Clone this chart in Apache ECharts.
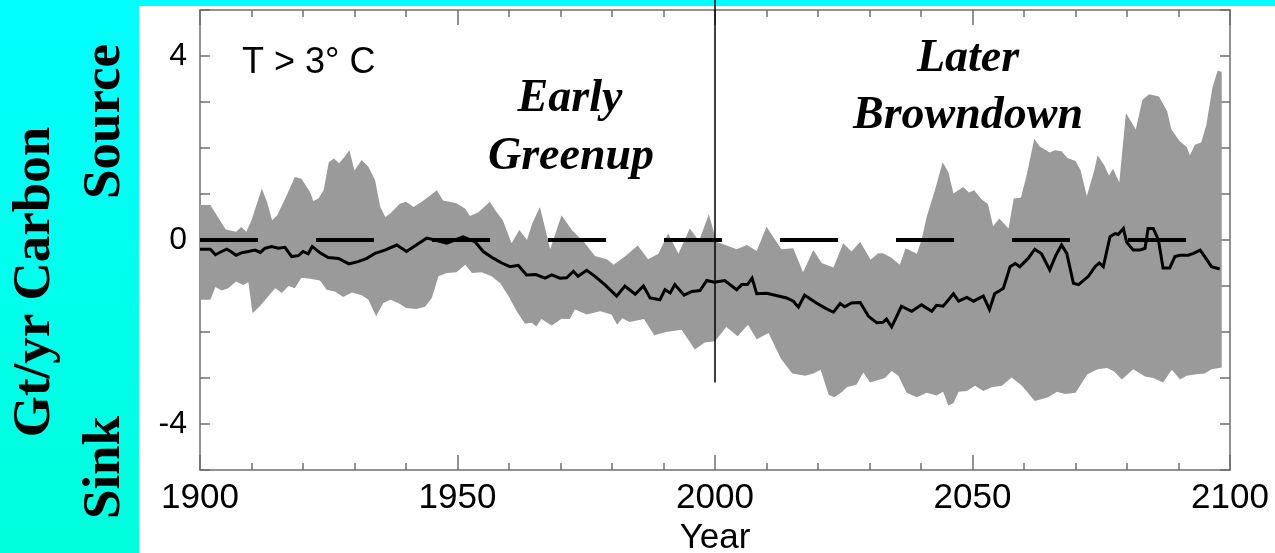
<!DOCTYPE html>
<html>
<head>
<meta charset="utf-8">
<script src="https://cdn.jsdelivr.net/npm/echarts@6/dist/echarts.min.js"></script>
<style>
html,body{margin:0;padding:0;background:#fff;overflow:hidden;}
#chart{width:1275px;height:553px;}
</style>
</head>
<body>
<div id="chart"></div>
<script>
// ---- data (year, Gt/yr carbon) ----
const upperBand = [[1900,0.76],[1902,0.76],[1905,0.23],[1907,0.18],[1908,0.28],[1909,0.18],[1910,0.43],[1912,1.12],[1913,0.83],[1914,0.43],[1915,0.54],[1917,1.01],[1918.4,1.37],[1919.7,1.33],[1921.4,1.04],[1922,0.85],[1923,0.9],[1924,1.08],[1925,1.69],[1926,1.77],[1927,1.67],[1928,1.8],[1929,1.95],[1930,1.51],[1931.4,1.74],[1932.7,1.59],[1934,1.3],[1935,0.72],[1936,0.5],[1937,0.58],[1938.8,0.79],[1940,0.83],[1941.5,0.72],[1943.4,0.86],[1946,1.08],[1947.2,0.86],[1949.8,0.8],[1951.5,0.68],[1952.4,0.52],[1954,0.6],[1955.5,0.75],[1956.3,0.83],[1957.3,0.65],[1958.8,0.43],[1960.5,-0.07],[1962,0.22],[1963.5,0.0],[1964.5,0.36],[1966,0.72],[1968,-0.2],[1970.2,0.54],[1972.2,0.22],[1974.6,-0.05],[1976.7,-0.35],[1979,-0.42],[1980.3,-0.54],[1982.5,-0.36],[1985,-0.12],[1987,-0.42],[1989,-0.3],[1990.9,0.14],[1992.9,-0.3],[1995.1,0.25],[1996.9,-0.02],[1998.8,0.56],[2000.3,-0.04],[2002,-0.11],[2004.2,-0.2],[2006.2,-0.11],[2008.1,-0.24],[2010,0.29],[2012.9,-0.2],[2015.2,-0.18],[2017.1,-0.7],[2019.1,-0.22],[2020.7,-0.5],[2023,-0.6],[2024.9,-0.07],[2026.5,-0.25],[2028.2,-0.04],[2030.2,-0.43],[2031.7,-0.29],[2032.6,-0.29],[2034.2,-0.38],[2035.9,-0.54],[2037,-0.18],[2039.2,-0.3],[2040.1,0.0],[2041.1,0.5],[2042.7,1.08],[2044.2,1.69],[2045.3,1.48],[2046.3,1.01],[2048.2,1.15],[2049.3,1.03],[2050.3,1.08],[2051.8,0.88],[2053,0.78],[2054,0.3],[2055.2,0.47],[2057,0.25],[2058,0.9],[2059.4,0.92],[2060.5,1.4],[2062,2.2],[2063,2.04],[2065,1.9],[2066,1.95],[2067.3,1.93],[2068.4,1.78],[2070,1.72],[2071,1.51],[2072.2,0.95],[2073.6,1.5],[2074.3,1.84],[2075.6,1.62],[2076.5,1.4],[2077.3,1.55],[2078.5,1.25],[2079.8,2.76],[2081.7,2.4],[2083,3.05],[2084.3,3.17],[2086.2,3.12],[2087.8,2.8],[2088.6,2.41],[2090.2,2.15],[2091.6,2.02],[2092.2,1.84],[2093.2,2.07],[2094.4,2.12],[2095.4,2.5],[2096.6,3.32],[2097.6,3.68],[2098.4,3.66]];

const lowerBand = [[1900,-1.3],[1902,-1.3],[1903,-1.02],[1904.2,-1.1],[1905.5,-1.05],[1907,-0.9],[1908.4,-0.98],[1909.4,-0.92],[1910.2,-1.59],[1911.7,-1.43],[1913.3,-1.22],[1914.6,-1.05],[1915.9,-1.15],[1917.2,-1.0],[1918.4,-1.05],[1919.7,-0.82],[1921.4,-0.84],[1923.3,-0.88],[1924.6,-1.08],[1926.2,-1.12],[1927.8,-1.24],[1929.5,-1.14],[1931.4,-1.2],[1932.7,-1.3],[1934.2,-1.66],[1935.6,-1.37],[1937,-1.3],[1938.5,-1.37],[1940,-1.48],[1942,-1.5],[1943.7,-1.45],[1945,-1.26],[1946.3,-0.79],[1947.9,-0.72],[1949.8,-0.7],[1951.5,-0.54],[1952.8,-0.72],[1954.7,-0.7],[1956.6,-0.79],[1958.3,-0.94],[1959.9,-1.22],[1961.5,-1.55],[1963.1,-1.82],[1964.4,-1.8],[1965.3,-1.88],[1966.3,-1.72],[1968.3,-1.86],[1970.2,-1.71],[1971.8,-1.72],[1972.8,-1.51],[1975.1,-1.62],[1977.7,-1.55],[1979.9,-1.62],[1981,-1.84],[1982,-1.7],[1983.4,-1.78],[1986.2,-1.72],[1988.2,-2.07],[1990.5,-2.0],[1993.5,-1.95],[1996.1,-2.38],[1998,-2.23],[2000,-2.2],[2002.2,-1.89],[2004.4,-2.09],[2006.4,-1.84],[2008.1,-2.16],[2010.4,-2.02],[2012.8,-2.58],[2015,-2.9],[2017.5,-2.95],[2019.1,-2.9],[2020.5,-2.82],[2022.1,-3.37],[2023.2,-3.42],[2024.7,-3.3],[2025.6,-3.2],[2027.5,-3.14],[2028.8,-2.88],[2030.1,-3.1],[2033,-3.0],[2034.3,-2.85],[2035.6,-2.95],[2037.2,-3.32],[2039.2,-3.42],[2041.1,-3.32],[2043,-3.38],[2044.3,-3.3],[2045.3,-3.6],[2046.3,-3.55],[2047.3,-3.3],[2048.9,-3.28],[2050.5,-3.17],[2052.1,-3.28],[2053.7,-3.2],[2055.7,-3.17],[2057.6,-2.99],[2059.6,-3.17],[2062.1,-3.5],[2064.7,-3.42],[2066.4,-3.3],[2068,-3.35],[2070,-3.32],[2072.3,-2.92],[2074.3,-2.81],[2076.2,-2.78],[2077.5,-2.86],[2079,-3.03],[2081.2,-2.81],[2083.5,-2.97],[2085.1,-3.0],[2087,-3.1],[2088.7,-2.82],[2090.3,-3.03],[2091.6,-2.95],[2093.5,-2.92],[2095.1,-2.9],[2096.4,-2.81],[2098.4,-2.77]];

const meanLine = [[1900,-0.2],[1902,-0.2],[1903,-0.32],[1904.2,-0.25],[1905.2,-0.2],[1906,-0.25],[1907,-0.33],[1908,-0.28],[1909.4,-0.25],[1910.7,-0.22],[1911.7,-0.27],[1912.6,-0.18],[1913.9,-0.14],[1915.2,-0.18],[1916.5,-0.16],[1917.8,-0.36],[1919.1,-0.34],[1920,-0.25],[1921,-0.3],[1921.8,-0.14],[1923.3,-0.28],[1924.9,-0.38],[1926.9,-0.4],[1928.9,-0.52],[1930.7,-0.47],[1932.4,-0.4],[1934,-0.29],[1935.9,-0.22],[1938.2,-0.11],[1940.1,-0.25],[1942,-0.11],[1944,0.04],[1945.6,0.0],[1947.9,-0.07],[1949.5,0.0],[1951.1,0.07],[1953.4,-0.04],[1955,-0.25],[1957,-0.4],[1958.6,-0.5],[1960.2,-0.58],[1961.8,-0.55],[1963.4,-0.76],[1965.2,-0.75],[1967,-0.83],[1968.3,-0.76],[1969.9,-0.83],[1971.2,-0.82],[1972.5,-0.68],[1973.4,-0.79],[1975.1,-0.66],[1976.7,-0.79],[1978.6,-0.97],[1980.9,-1.22],[1982.5,-1.0],[1984.5,-1.18],[1986.1,-1.0],[1987.4,-1.26],[1989.3,-1.3],[1990.3,-1.08],[1991.3,-1.15],[1992.2,-0.97],[1994,-1.2],[1995.5,-1.12],[1997.1,-1.1],[1998.4,-0.88],[1999.9,-0.92],[2001.9,-0.88],[2004.2,-1.08],[2005.2,-0.97],[2006.3,-0.97],[2007.2,-0.83],[2008.1,-1.17],[2010,-1.16],[2011.7,-1.2],[2013.9,-1.26],[2015.2,-1.33],[2016.2,-1.46],[2017.4,-1.2],[2019.7,-1.37],[2021.4,-1.48],[2023,-1.57],[2024.3,-1.38],[2025.2,-1.45],[2026.5,-1.37],[2028.2,-1.36],[2029.8,-1.66],[2031.4,-1.8],[2032.6,-1.79],[2033.3,-1.72],[2034.3,-1.89],[2036.2,-1.44],[2038.2,-1.55],[2040.1,-1.41],[2042.1,-1.55],[2043,-1.42],[2044.3,-1.44],[2046.3,-1.17],[2047.3,-1.33],[2048.9,-1.25],[2050.2,-1.33],[2052.1,-1.22],[2053.3,-1.51],[2054.3,-1.17],[2056,-1.05],[2057.3,-0.58],[2058.3,-0.51],[2059.2,-0.58],[2060.8,-0.4],[2062.1,-0.2],[2063.4,-0.3],[2065,-0.65],[2066.2,-0.33],[2067.3,-0.11],[2068.3,-0.29],[2069.6,-0.94],[2070.6,-0.97],[2072.5,-0.79],[2073.8,-0.58],[2074.6,-0.5],[2075.4,-0.58],[2076.7,0.07],[2077.7,0.14],[2078.3,0.12],[2079.3,0.25],[2079.9,-0.04],[2081.2,-0.22],[2082.5,-0.22],[2083.5,-0.18],[2084.1,0.25],[2085.1,0.25],[2086.1,0.0],[2087,-0.61],[2088.3,-0.61],[2089.3,-0.36],[2090.3,-0.33],[2091.9,-0.33],[2092.9,-0.29],[2094.2,-0.22],[2095.1,-0.36],[2096.4,-0.58],[2098,-0.63]];

const xRange = [1900, 2100];
const yRange = [-5, 5];
const yLabelValues = [-4, 0, 4];
const dividerLine = [[2000, -3.1], [2000, 5.25]];
const zeroLineValue = 0;

const chart = echarts.init(document.getElementById('chart'), null, {renderer: 'canvas'});
const axisColor = '#6e6e6e';
const sans = '"Liberation Sans", Arial, Helvetica, sans-serif';
const serif = '"Liberation Serif", "Times New Roman", serif';

function xAxisCfg(pos, showLabels) {
  return {
    type: 'value', position: pos, min: xRange[0], max: xRange[1], interval: 50,
    axisLine: {show: true, onZero: false, lineStyle: {color: axisColor, width: 1.5}},
    axisTick: {show: true, inside: true, length: 15, lineStyle: {color: axisColor, width: 1.5}},
    minorTick: {show: true, splitNumber: 5, length: 7, lineStyle: {color: axisColor, width: 1.5}},
    axisLabel: {show: showLabels, fontSize: 35, color: '#000', margin: 11, fontFamily: sans,
      formatter: function (v) { return String(v); }},
    splitLine: {show: false}, minorSplitLine: {show: false},
    name: showLabels ? 'Year' : '', nameLocation: 'middle', nameGap: 46,
    nameTextStyle: {fontSize: 35, color: '#000', fontFamily: sans}
  };
}
function yAxisCfg(pos, showLabels) {
  return {
    type: 'value', position: pos, min: yRange[0], max: yRange[1], interval: 1,
    axisLine: {show: true, onZero: false, lineStyle: {color: axisColor, width: 1.5}},
    axisTick: {show: true, inside: true, length: 10, lineStyle: {color: axisColor, width: 1.5}},
    axisLabel: {show: showLabels, fontSize: 32, color: '#000', margin: 13, fontFamily: sans,
      formatter: function (v) { return yLabelValues.indexOf(v) >= 0 ? String(v) : ''; }},
    splitLine: {show: false}
  };
}

const option = {
  animation: false,
  backgroundColor: '#ffffff',
  grid: {left: 200, right: 45, top: 10, bottom: 83, containLabel: false, outerBoundsMode: 'none'},
  xAxis: [xAxisCfg('bottom', true), xAxisCfg('top', false)],
  yAxis: [yAxisCfg('left', true), yAxisCfg('right', false)],
  graphic: [
    {type: 'rect', z: -10, silent: true, shape: {x: 0, y: 0, width: 139, height: 553},
      style: {fill: new echarts.graphic.LinearGradient(0, 0, 0, 1, [{offset: 0, color: '#00ffff'}, {offset: 1, color: '#00ffdc'}])}},
    {type: 'rect', z: -10, silent: true, shape: {x: 139, y: 0, width: 1136, height: 6}, style: {fill: '#00ffff'}},
    {type: 'text', x: 35.5, y: 282, rotation: Math.PI / 2, silent: true,
      style: {text: 'Gt/yr Carbon', font: 'bold 53px ' + serif, fill: '#000', align: 'center', verticalAlign: 'middle'}},
    {type: 'text', x: 105.5, y: 121.5, rotation: Math.PI / 2, silent: true,
      style: {text: 'Source', font: 'bold 53px ' + serif, fill: '#000', align: 'center', verticalAlign: 'middle'}},
    {type: 'text', x: 105.5, y: 467.5, rotation: Math.PI / 2, silent: true,
      style: {text: 'Sink', font: 'bold 53px ' + serif, fill: '#000', align: 'center', verticalAlign: 'middle'}},
    {type: 'text', x: 242, y: 63.5, silent: true, z: 100,
      style: {text: 'T > 3\u00b0 C', font: '36px ' + sans, fill: '#000', align: 'left', verticalAlign: 'middle'}},
    {type: 'text', x: 570, y: 99.5, silent: true, z: 100,
      style: {text: 'Early', font: 'italic bold 46px ' + serif, fill: '#000', align: 'center', verticalAlign: 'middle'}},
    {type: 'text', x: 571, y: 157, silent: true, z: 100,
      style: {text: 'Greenup', font: 'italic bold 46px ' + serif, fill: '#000', align: 'center', verticalAlign: 'middle'}},
    {type: 'text', x: 968, y: 59.5, silent: true, z: 100,
      style: {text: 'Later', font: 'italic bold 46px ' + serif, fill: '#000', align: 'center', verticalAlign: 'middle'}},
    {type: 'text', x: 968, y: 116.5, silent: true, z: 100,
      style: {text: 'Browndown', font: 'italic bold 46px ' + serif, fill: '#000', align: 'center', verticalAlign: 'middle'}}
  ],
  series: [
    {
      type: 'custom', name: 'range', z: 1, silent: true, clip: true,
      data: [[xRange[0], 0]],
      renderItem: function (params, api) {
        const pts = upperBand.map(function (p) { return api.coord(p); })
          .concat(lowerBand.slice().reverse().map(function (p) { return api.coord(p); }));
        return {type: 'polygon', shape: {points: pts}, style: {fill: '#9a9a9a', stroke: null}};
      }
    },
    {
      type: 'line', name: 'mean', z: 5, silent: true, clip: false,
      data: meanLine, showSymbol: false, symbol: 'none',
      lineStyle: {color: '#000', width: 3, join: 'miter'},
      markLine: {
        silent: true, symbol: ['none', 'none'], label: {show: false}, animation: false,
        data: [
          {yAxis: zeroLineValue, lineStyle: {color: '#000', width: 4, type: [58, 58], cap: 'butt'}}
        ]
      }
    },
    {
      type: 'line', name: 'divider', z: 6, silent: true, clip: false,
      data: dividerLine, showSymbol: false, symbol: 'none',
      lineStyle: {color: '#000', width: 1.5}
    }
  ]
};
chart.setOption(option);
</script>
</body>
</html>
